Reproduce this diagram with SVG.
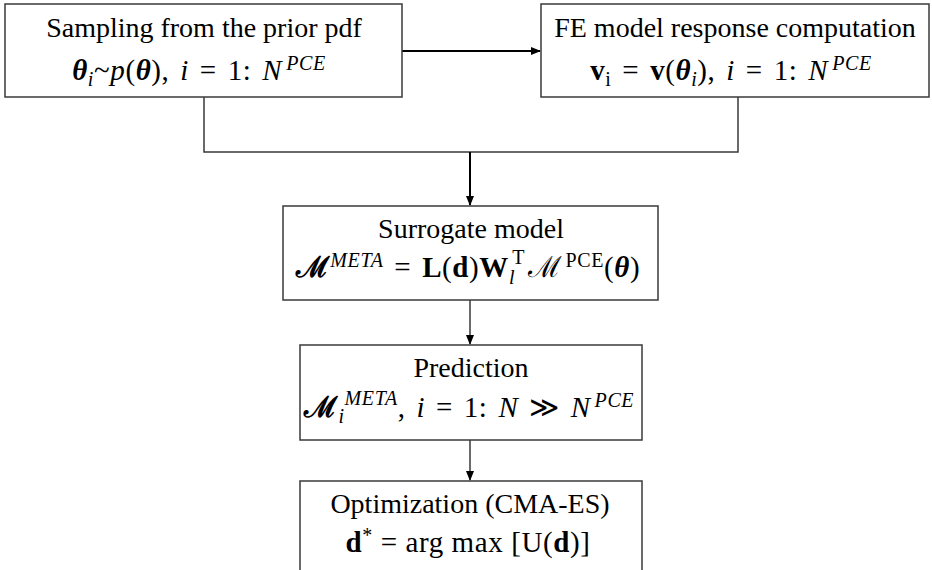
<svg xmlns="http://www.w3.org/2000/svg" width="932" height="570" viewBox="0 0 932 570">
<defs>
<marker id="ah" markerWidth="10" markerHeight="10" refX="9" refY="5" orient="auto" markerUnits="userSpaceOnUse">
<path d="M0,1 L10,5 L0,9 Z" fill="#000"/>
</marker>
<style>
.box{fill:#fff;stroke:#3a3a3a;stroke-width:1.5}
.ln{fill:none;stroke:#3a3a3a;stroke-width:1.5}
.ar{fill:none;stroke:#000;stroke-width:2}
text{font-family:"Liberation Serif","DejaVu Serif",serif;fill:#000;text-anchor:middle}
.t{font-size:28px}
.m{font-size:29px;letter-spacing:0.6px;word-spacing:3px}
.o{word-spacing:0px}
.i{font-style:italic}
.b{font-weight:bold}
.bi{font-style:italic;font-weight:bold}
.s{font-size:20px}
</style>
</defs>
<g id="connectors">
<path class="ar" d="M402,51 H540" marker-end="url(#ah)"/>
<path class="ln" d="M204,97 V152 H738 V97"/>
<path class="ar" d="M470,152 V205" marker-end="url(#ah)"/>
<path class="ln" d="M470,300 V344" marker-end="url(#ah)"/>
<path class="ln" d="M470,440 V480" marker-end="url(#ah)"/>
</g>
<g id="sampling">
<rect class="box" x="5" y="4" width="397" height="93"/>
<text class="t" x="204" y="37">Sampling from the prior pdf</text>
<text class="m" x="199" y="80"><tspan class="bi">θ</tspan><tspan class="i s" dy="6">i</tspan><tspan dy="-6">~</tspan><tspan class="i">p</tspan>(<tspan class="bi">θ</tspan>), <tspan class="i">i</tspan> = 1: <tspan class="i">N</tspan><tspan class="i s" dx="4" dy="-10">PCE</tspan></text>
</g>
<g id="fe">
<rect class="box" x="541" y="4" width="388" height="93"/>
<text class="t" x="735" y="37">FE model response computation</text>
<text class="m" x="731" y="80"><tspan class="b">v</tspan><tspan class="s" dy="6">i</tspan><tspan dy="-6"> = </tspan><tspan class="b">v</tspan>(<tspan class="bi">θ</tspan><tspan class="i s" dy="6">i</tspan><tspan dy="-6">), </tspan><tspan class="i">i</tspan> = 1: <tspan class="i">N</tspan><tspan class="i s" dx="4" dy="-10">PCE</tspan></text>
</g>
<g id="surrogate">
<rect class="box" x="283" y="206" width="375" height="94"/>
<text class="t" x="471" y="238">Surrogate model</text>
<text class="m" x="468" y="277"><tspan class="b">ℳ</tspan><tspan class="i s" dy="-10">META</tspan><tspan dy="10"> = </tspan><tspan class="b">L</tspan>(<tspan class="b">d</tspan>)<tspan class="b">W</tspan><tspan class="i s" dy="7">l</tspan><tspan class="s" dx="-3" dy="-20">T</tspan><tspan dx="3" dy="13">ℳ</tspan><tspan class="s" dx="3" dy="-10">PCE</tspan><tspan dy="10">(</tspan><tspan class="bi">θ</tspan>)</text>
</g>
<g id="prediction">
<rect class="box" x="300" y="345" width="342" height="95"/>
<text class="t" x="471" y="377">Prediction</text>
<text class="m" x="469" y="417"><tspan class="b">ℳ</tspan><tspan class="i s" dy="6">i</tspan><tspan class="i s" dy="-18">META</tspan><tspan dy="12">, </tspan><tspan class="i">i</tspan> = 1: <tspan class="i">N</tspan> ≫ <tspan class="i">N</tspan><tspan class="i s" dx="4" dy="-10">PCE</tspan></text>
</g>
<g id="optimization">
<rect class="box" x="300" y="481" width="342" height="95"/>
<text class="t" x="470" y="513">Optimization (CMA-ES)</text>
<text class="m o" x="468" y="552"><tspan class="b">d</tspan><tspan class="s" dy="-10">*</tspan><tspan dy="10"> = arg max [U(</tspan><tspan class="b">d</tspan>)]</text>
</g>
</svg>
